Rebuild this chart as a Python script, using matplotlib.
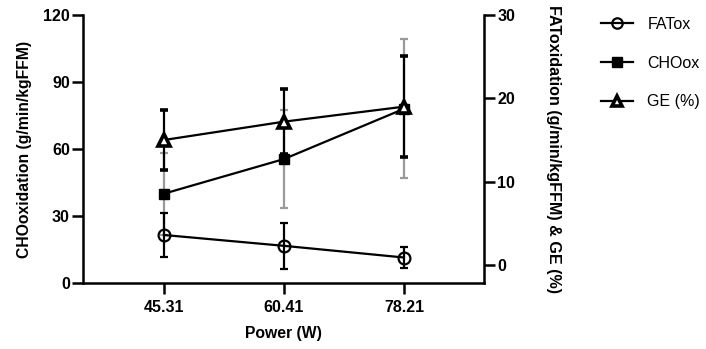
import matplotlib
matplotlib.use("Agg")
import matplotlib.pyplot as plt
from matplotlib.lines import Line2D

plt.rcParams['font.family'] = ['Liberation Sans', 'DejaVu Sans']

power_labels = ["45.31", "60.41", "78.21"]
cho = [40.0, 55.5, 78.0]
cho_sd = [18.4, 22.0, 31.2]
fat = [3.6, 2.3, 0.9]
fat_sd = [2.6, 2.8, 1.3]
ge = [15.0, 17.2, 19.0]
ge_sd = [3.65, 3.9, 6.1]

left_ticks = [0, 30, 60, 90, 120]
right_ticks = [0, 10, 20, 30]

xpos = list(range(len(power_labels)))

fig = plt.figure(figsize=(7.06, 3.49), dpi=100)
ax = fig.add_axes([83/706, 66/349, (484-83)/706, (283-15)/349])
ax2 = ax.twinx()

lw = 1.6
gray = '#9a9a9a'

ax.errorbar(xpos, cho, yerr=cho_sd, color='black', ecolor=gray, elinewidth=lw,
            capsize=3.2, capthick=lw, lw=lw, marker='s', ms=7.5,
            mfc='black', mec='black', zorder=3)

ax2.errorbar(xpos, fat, yerr=fat_sd, color='black', ecolor='black', elinewidth=lw,
             capsize=3.2, capthick=lw, lw=lw, marker='o', ms=8.5,
             mfc='none', mec='black', mew=lw, zorder=3)
ax2.errorbar(xpos, ge, yerr=ge_sd, color='black', ecolor='black', elinewidth=lw,
             capsize=3.2, capthick=lw, lw=lw, marker='^', ms=8,
             mfc='white', mec='black', mew=2.6, zorder=4)

ax.set_xlim(-0.675, 2.667)
ax.set_ylim(0, 120)
ax2.set_ylim(-2.16, 30)
ax.set_yticks(left_ticks)
ax2.set_yticks(right_ticks)
ax.set_xticks(xpos)
ax.set_xticklabels(power_labels)

for a in (ax, ax2):
    a.spines['top'].set_visible(False)
    for s in a.spines.values():
        s.set_linewidth(1.8)
    a.tick_params(width=1.8, length=8, labelsize=11.5)
    for lab in a.get_xticklabels() + a.get_yticklabels():
        lab.set_fontweight('bold')
ax.spines['right'].set_visible(False)
ax2.spines['left'].set_visible(False)
ax2.spines['bottom'].set_visible(False)
ax.tick_params(axis='y', pad=1.5)
ax2.tick_params(axis='y', pad=1.5)
ax.tick_params(axis='x', pad=4)

ax.set_xlabel('Power (W)', fontsize=11.3, fontweight='bold', labelpad=8)
ax.set_ylabel('CHOoxidation (g/min/kgFFM)', fontsize=11.3, fontweight='bold', labelpad=8)
ax2.set_ylabel('FAToxidation (g/min/kgFFM) & GE (%)', fontsize=11.6, fontweight='bold',
               rotation=-90, labelpad=22, va='bottom')

handles = [
    Line2D([], [], color='black', lw=lw, marker='o', ms=7.5, mfc='none', mec='black', mew=lw),
    Line2D([], [], color='black', lw=lw, marker='s', ms=7, mfc='black', mec='black'),
    Line2D([], [], color='black', lw=lw, marker='^', ms=7.5, mfc='white', mec='black', mew=2.6),
]
fig.legend(handles, ['FATox', 'CHOox', 'GE (%)'], loc='upper left',
           bbox_to_anchor=(601/706, 1 - 17/349), frameon=False, fontsize=11.5,
           borderpad=0, borderaxespad=0, handlelength=2.0, handletextpad=0.9,
           labelspacing=1.48)

fig.savefig('out.png', dpi=100)
